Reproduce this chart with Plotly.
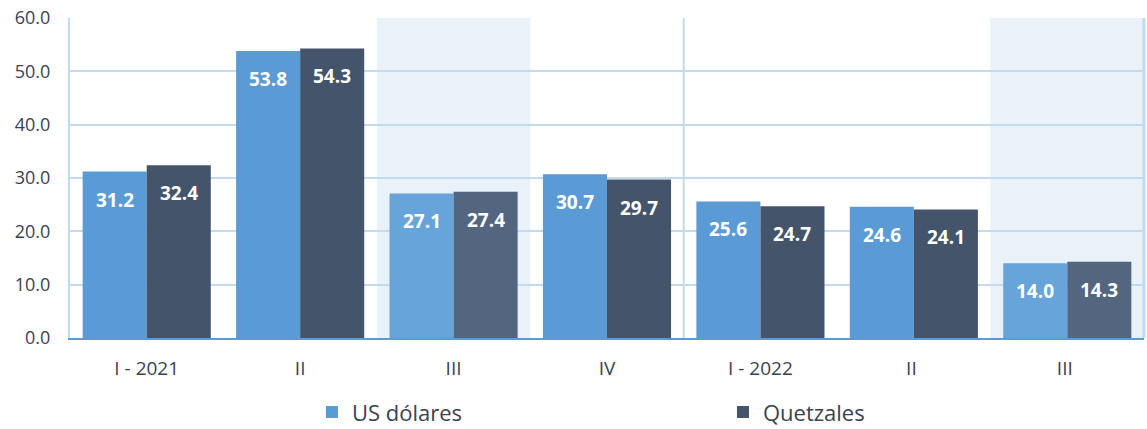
import plotly.graph_objects as go

categories = ["I - 2021", "II", "III", "IV", "I - 2022", "II ", "III "]
usd = [31.2, 53.8, 27.1, 30.7, 25.6, 24.6, 14.0]
gtq = [32.4, 54.3, 27.4, 29.7, 24.7, 24.1, 14.3]
highlight = [False, False, True, False, False, False, True]
y_ticks = [0, 10, 20, 30, 40, 50, 60]

usd_col = "#5B9BD5"
gtq_col = "#44546A"
usd_hl = "#67A4DA"
gtq_hl = "#54667F"
grid_col = "#C3DAEE"
band_col = "#E9F1F9"
font_fam = "Open Sans, Noto Sans, sans-serif"
txt_col = "#3B4150"

fig = go.Figure()
fig.add_trace(go.Bar(
    x=categories, y=usd, name="US dólares",
    marker=dict(color=[usd_hl if h else usd_col for h in highlight], line=dict(width=0)),
))
fig.add_trace(go.Bar(
    x=categories, y=gtq, name="Quetzales",
    marker=dict(color=[gtq_hl if h else gtq_col for h in highlight], line=dict(width=0)),
))

shapes = []
for i, h in enumerate(highlight):
    if h:
        shapes.append(dict(type="rect", xref="x", yref="paper", x0=i - 0.5, x1=i + 0.5,
                           y0=0, y1=1, fillcolor=band_col, line=dict(width=0), layer="below"))
shapes.append(dict(type="line", xref="x", yref="paper", x0=3.5, x1=3.5, y0=0, y1=1,
                   line=dict(color=grid_col, width=2), layer="below"))
shapes.append(dict(type="line", xref="paper", yref="paper", x0=1, x1=1, y0=0, y1=1,
                   line=dict(color=grid_col, width=3), layer="below"))

annotations = []
off = 0.2085
for i in range(len(categories)):
    for val, dx in ((usd[i], -off), (gtq[i], off)):
        annotations.append(dict(
            x=i + dx, y=val, xref="x", yref="y", text=f"{val:.1f}", showarrow=False,
            yshift=-28, yanchor="middle", xanchor="center",
            font=dict(family=font_fam, size=19, color="white", weight="bold"),
        ))

fig.update_layout(
    width=1147, height=429,
    margin=dict(l=70, r=3, t=18, b=91, autoexpand=False),
    paper_bgcolor="white", plot_bgcolor="white",
    barmode="group", bargap=0.165, bargroupgap=0,
    font=dict(family=font_fam, color=txt_col),
    shapes=shapes, annotations=annotations,
    showlegend=True,
    legend=dict(orientation="h", x=0.2253, xanchor="left", y=-0.232, yanchor="middle",
                entrywidth=366, entrywidthmode="pixels",
                font=dict(size=22, color=txt_col, family=font_fam)),
    xaxis=dict(
        type="category", showgrid=False, showline=True, linecolor=usd_col, linewidth=2,
        tickfont=dict(size=19, color=txt_col), ticks="", ticklabelstandoff=12,
        range=[-0.5, 6.5], automargin=False,
    ),
    yaxis=dict(
        range=[0, 60], tickvals=y_ticks, tickformat=".1f", showgrid=True,
        gridcolor=grid_col, gridwidth=2, zeroline=False,
        showline=True, linecolor=grid_col, linewidth=2, automargin=False,
        tickfont=dict(size=18, color=txt_col), ticks="", ticklabelstandoff=14,
    ),
)

fig.write_html(
    "out.html",
    config={"displayModeBar": False},
    post_script=(
        "document.documentElement.style.margin='0';"
        "document.documentElement.style.padding='0';"
        "document.documentElement.style.overflow='hidden';"
        "document.body.style.margin='0';"
        "document.body.style.padding='0';"
        "document.body.style.overflow='hidden';"
    ),
)
